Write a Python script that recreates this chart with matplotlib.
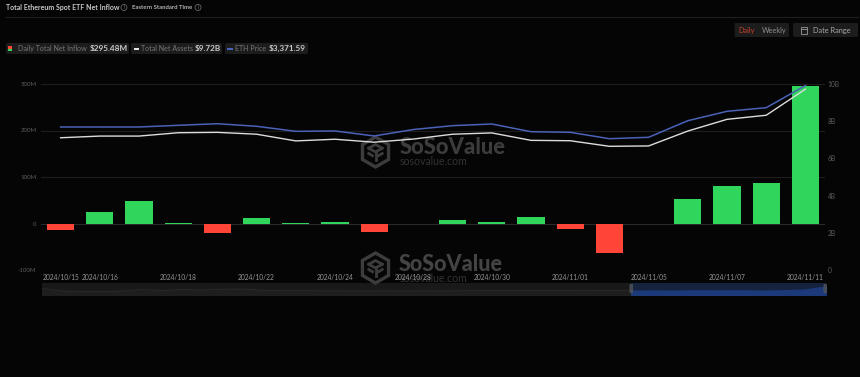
import matplotlib
matplotlib.use("Agg")
import matplotlib.pyplot as plt
from matplotlib.patches import Polygon, FancyBboxPatch, Circle, Rectangle
from matplotlib.lines import Line2D
from matplotlib.transforms import Affine2D

plt.rcParams['font.family'] = ['Lato', 'DejaVu Sans']

dates = ["2024/10/15","2024/10/16","2024/10/17","2024/10/18","2024/10/21","2024/10/22","2024/10/23",
         "2024/10/24","2024/10/25","2024/10/28","2024/10/29","2024/10/30","2024/10/31","2024/11/01",
         "2024/11/04","2024/11/05","2024/11/06","2024/11/07","2024/11/08","2024/11/11"]
inflow = [-13, 25, 49, 2, -21, 12, 1.2, 2.5, -19, -1.5, 8, 4, 13.5, -11, -63, 0, 53, 80, 87, 295.48]
assets = [7.11, 7.20, 7.20, 7.38, 7.40, 7.30, 6.94, 7.03, 6.87, 7.04, 7.30, 7.37, 6.97, 6.95, 6.65, 6.67, 7.47, 8.10, 8.32, 9.72]
eth = [2614, 2614, 2614, 2645, 2674, 2627, 2535, 2541, 2450, 2568, 2638, 2669, 2528, 2517, 2400, 2426, 2729, 2901, 2967, 3371.59]
shown_ticks = ["2024/10/15","2024/10/16","2024/10/18","2024/10/22","2024/10/24","2024/10/28",
               "2024/10/30","2024/11/01","2024/11/05","2024/11/07","2024/11/11"]
tick_label_idx = [0, 1, 3, 5, 7, 9, 11, 13, 15, 17, 19]
left_ticks = [-100, 0, 100, 200, 300]
left_labels = ["-100M", "0", "100M", "200M", "300M"]
right_ticks = [0, 2, 4, 6, 8, 10]
right_labels = ["0", "2B", "4B", "6B", "8B", "10B"]
slider_all = [6.5, 4, 3.5, 3.5, 4, 5.5, 4.5, 5.5, 5, 5.8, 6, 4.6, 4.4, 4.3, 4.2, 4, 4, 4.1, 4, 4.1,
              4, 4.3, 4.5, 4.6, 4.4, 4.5, 4.6, 4.7, 4.6, 4.4, 4.3, 4.5, 4.4, 4.6, 4.5, 4.6, 4.4, 4.6, 5.4, 8.5]

BG = "#050505"
GREEN = "#30d55c"
RED = "#ff4438"
BLUE = "#4a62b8"
WHITE = "#dcdcdc"
W, H = 860, 377

fig = plt.figure(figsize=(W/100, H/100), dpi=100, facecolor=BG)
T = Affine2D().scale(1, -1).translate(0, H)

def axbox(x0, y0, x1, y1):
    return [x0/W, 1 - y1/H, (x1-x0)/W, (y1-y0)/H]

def txt(x, y, s, size=6.5, color="#999999", weight="normal", ha="left", alpha=1, z=5):
    return fig.text(x, y, s, transform=T, fontsize=size, color=color, fontweight=weight,
                    ha=ha, va="center", alpha=alpha, zorder=z)

def chip(x0, y0, x1, y1, color="#1c1c1c"):
    fig.add_artist(FancyBboxPatch((x0+1.5, y0+1.5), x1-x0-3, y1-y0-3, boxstyle="round,pad=1.5",
                                  transform=T, fc=color, ec="none", zorder=1))

def info(x, y):
    fig.add_artist(Circle((x, y), 3, transform=T, fc="none", ec="#777777", lw=0.5, zorder=3))
    txt(x, y, "i", size=3.5, color="#777777", ha="center")

ax = fig.add_axes(axbox(41, 84, 825, 270), facecolor="none", zorder=2)
x = list(range(len(dates)))
ax.bar(x, inflow, width=0.69, color=[GREEN if v >= 0 else RED for v in inflow], zorder=2)
ax.set_xlim(-0.5, 19.5)
ax.set_ylim(-100, 300)
ax.set_yticks(left_ticks, left_labels)
ax.set_xticks(tick_label_idx, shown_ticks)
ax.tick_params(axis="y", length=0, labelsize=4.4, labelcolor="#5c5c5c", pad=3.2)
ax.tick_params(axis="x", length=0, labelsize=4.8, labelcolor="#969696", pad=2.8)
ax.grid(axis="y", color="#1e1e1e", lw=0.8, zorder=0)
ax.set_axisbelow(True)
for s in ax.spines.values():
    s.set_visible(False)
ax.axhline(0, color="#2a2a2a", lw=0.8, zorder=1)
ax.axhline(-100, color="#2a2a2a", lw=0.8, zorder=1)

ax2 = ax.twinx()
ax2.set_ylim(0, 10)
ax2.set_yticks(right_ticks, right_labels)
ax2.tick_params(axis="y", length=0, labelsize=4.8, labelcolor="#5c5c5c", pad=2)
ax2.plot(x, assets, color=WHITE, lw=1.0, zorder=3)
for s in ax2.spines.values():
    s.set_visible(False)

ax3 = ax.twinx()
ax3.set_ylim(0, 3400)
ax3.axis("off")
ax3.plot(x, eth, color=BLUE, lw=1.1, zorder=4)

# header
txt(6, 7.5, "Total Ethereum Spot ETF Net Inflow", size=5.0, color="#c8c8c8", weight="bold")
info(124, 7.5)
txt(132, 7.5, "Eastern Standard Time", size=4.3, color="#b0b0b0", weight="bold")
info(198, 7.5)
fig.add_artist(Line2D([6, 858], [16.5, 16.5], transform=T, color="#1f1f1f", lw=0.8))

# legend chips
chip(6, 43, 129, 54); chip(131, 43, 222, 54); chip(225, 43, 308, 54)
fig.add_artist(Rectangle((8, 46), 4, 2.5, transform=T, fc=RED, ec="none", zorder=3))
fig.add_artist(Rectangle((8, 48.5), 4, 2.5, transform=T, fc=GREEN, ec="none", zorder=3))
txt(18, 48.5, "Daily Total Net Inflow", size=5.15, color="#777777")
txt(89.5, 48.5, "$295.48M", size=5.9, color="#c8c8c8", weight="bold")
fig.add_artist(Rectangle((133.5, 47.5), 5.5, 2, transform=T, fc="#e6e6e6", ec="none", zorder=3))
txt(141, 48.5, "Total Net Assets", size=5.15, color="#777777")
txt(195, 48.5, "$9.72B", size=5.9, color="#c8c8c8", weight="bold")
fig.add_artist(Rectangle((227, 47.5), 6, 2, transform=T, fc=BLUE, ec="none", zorder=3))
txt(235, 48.5, "ETH Price", size=5.15, color="#777777")
txt(269, 48.5, "$3,371.59", size=5.9, color="#c8c8c8", weight="bold")

# buttons
chip(734.5, 23, 789, 37); chip(793, 23, 858, 37)
txt(738.5, 30, "Daily", size=5.3, color="#c8402c")
txt(762, 30, "Weekly", size=5.3, color="#8e8e8e")
fig.add_artist(Rectangle((800.5, 27), 6.5, 6.5, transform=T, fc="none", ec="#999999", lw=0.6, zorder=3))
fig.add_artist(Line2D([800.5, 807], [29, 29], transform=T, color="#999999", lw=0.6, zorder=3))
txt(813, 30, "Date Range", size=5.3, color="#a8a8a8")

# slider
sl = fig.add_axes(axbox(42, 283, 826, 295), facecolor="#191919", zorder=1)
sx = list(range(len(slider_all)))
sl.fill_between(sx, slider_all, color="#1e1e1e")
sl.plot(sx, slider_all, color="#2b2b2b", lw=0.6)
sl.set_xlim(0, len(slider_all)-1)
sl.set_ylim(0, 12)
sl.set_xticks([]); sl.set_yticks([])
for s in sl.spines.values():
    s.set_visible(False)
sl2 = fig.add_axes(axbox(631, 283, 826, 295), facecolor="#15233f", zorder=1)
sel = slider_all[30:]
sl2.fill_between(range(len(sel)), sel, color="#1c3a7a")
sl2.set_xlim(0, len(sel)-1)
sl2.set_ylim(0, 12)
sl2.set_xticks([]); sl2.set_yticks([])
for s in sl2.spines.values():
    s.set_visible(False)
for hx in (631, 825):
    fig.add_artist(FancyBboxPatch((hx-0.5, 285), 1.5, 7, boxstyle="round,pad=0.6", transform=T,
                                  fc="#444a55", ec="#666666", lw=0.3, zorder=4))

# watermarks
def logo(cx, cy, r=15):
    c = "#3c3c3c"
    h = [(cx, cy-r), (cx+r*0.87, cy-r*0.5), (cx+r*0.87, cy+r*0.5), (cx, cy+r), (cx-r*0.87, cy+r*0.5), (cx-r*0.87, cy-r*0.5)]
    fig.add_artist(Polygon(h, closed=True, transform=T, fc="none", ec=c, lw=2.4, zorder=1.5))
    segs = [[(cx-r*0.45, cy-r*0.25), (cx, cy-r*0.5), (cx+r*0.45, cy-r*0.25)],
            [(cx-r*0.45, cy-r*0.25), (cx, cy), (cx+r*0.45, cy-r*0.25)],
            [(cx, cy), (cx, cy+r*0.55)],
            [(cx-r*0.45, cy+0.1*r), (cx-r*0.2, cy+r*0.25)],
            [(cx+r*0.45, cy+0.1*r), (cx+r*0.2, cy+r*0.25)]]
    for sg in segs:
        fig.add_artist(Line2D(*zip(*sg), transform=T, color=c, lw=2, zorder=1.5))

logo(375.5, 152)
txt(400, 147.5, "SoSoValue", size=15.8, color="#3c3c3c", weight="black", z=1.5)
txt(400, 161.5, "sosovalue.com", size=7.6, color="#333333", z=1.5)
logo(375.5, 268)
txt(399, 264.5, "SoSoValue", size=15.5, color="#444444", weight="black", z=1.5)
txt(400, 278, "sosovalue.com", size=7.6, color="#333333", z=1.5)

fig.savefig("out.png", dpi=100, facecolor=BG)
